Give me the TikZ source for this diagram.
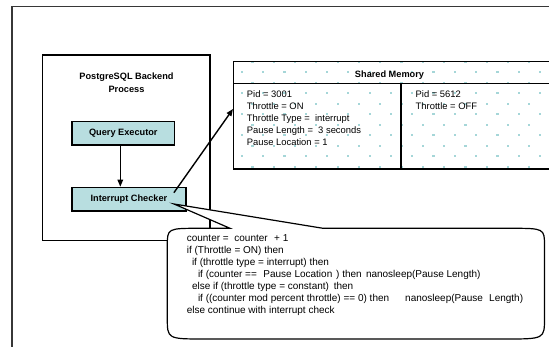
\documentclass[tikz,border=0pt]{standalone}
\usepackage{fontspec}
\setmainfont{Liberation Sans}
\usetikzlibrary{arrows.meta}
\definecolor{tealfill}{RGB}{184,222,224}
\definecolor{dotc}{RGB}{165,214,216}
\definecolor{framec}{RGB}{55,55,55}
\begin{document}
\begin{tikzpicture}[x=1pt,y=-1pt,
  box/.style={draw, line width=1.3pt, inner sep=0pt},
  bl/.style={font=\fontsize{9.2}{12.3}\selectfont\bfseries, inner sep=0pt},
  smt/.style={font=\fontsize{9.4}{12}\selectfont, anchor=base west, inner sep=0pt},
  cot/.style={font=\fontsize{10}{12}\selectfont, anchor=base west, inner sep=0pt},
  arr/.style={line width=1.4pt, -{Triangle[length=7pt,width=5.5pt]}}]
\clip (0,0) rectangle (549,347);
\fill[white] (0,0) rectangle (549,347);
% outer frame
\draw[framec, line width=1.6pt] (11.7,360) -- (11.7,6.5) -- (560,6.5);
% backend process
\node[box, minimum width=167.6pt, minimum height=185.7pt, anchor=north west] (be) at (41.7,54.3) {};
\node[bl, align=center] (betitle) at (126.5,82.8) {PostgreSQL Backend\\Process};
\node[box, bl, fill=tealfill, minimum width=102.7pt, minimum height=23.6pt, anchor=north west] (qe) at (71.3,120.7) {Query Executor};
\node[box, bl, fill=tealfill, minimum width=114pt, minimum height=23.6pt, anchor=north west] (ic) at (71.3,186.7) {Interrupt Checker};
\draw[arr] ([xshift=-3pt]qe.south) -- ([xshift=-3pt]qe.south |- ic.north);
% shared memory dots
\begin{scope}
\clip (233,61) rectangle (560,168.3);
\foreach \k in {0,...,10} {
  \pgfmathsetmacro\yy{61.7+10.5*\k}
  \pgfmathsetmacro\xo{mod(\k,2)==0 ? 444 : 454.7}
  \foreach \m in {-11,...,5} {
    \fill[dotc] ({\xo+21.3*\m-1},{\yy-1}) rectangle ++(2.2,2.2);
  }
}
\end{scope}
\node[box, minimum width=327pt, minimum height=107.3pt, anchor=north west] (sm) at (233,61) {};
\coordinate (hl) at (0,83.3);
\coordinate (dv) at (401,0);
\draw[line width=1.3pt] (sm.west |- hl) -- (sm.east |- hl);
\draw[line width=1.3pt] (dv |- hl) -- (dv |- sm.south);
\node[bl] (smh) at (389.5,74.7) {Shared Memory};
\node[smt] (sa1) at (246.7,97.1) {Pid = 3001};
\node[smt] (sa2) at (246.7,109.1) {Throttle = ON};
\node[smt] (sa3) at (246.7,121.1) {Throttle Type = \ interrupt};
\node[smt] (sa4) at (246.7,133.1) {Pause Length = \ 3 seconds};
\node[smt] (sa5) at (246.7,145.1) {Pause Location = 1};
\node[smt] (sb1) at (415.5,97.1) {Pid = 5612};
\node[smt] (sb2) at (415.5,109.1) {Throttle = OFF};
% arrow to shared memory
\draw[arr] ([xshift=-12.7pt,yshift=-6pt]ic.north east) -- ([yshift=6.3pt]sm.west);
% callout
\coordinate (tip) at (174,204);
\draw[line width=1.2pt, fill=white]
  (167.3,246) .. controls (167.3,228.3) .. (200,228.3) -- (230,228.3) -- (tip) -- (323,228.3)
  -- (510,228.3) .. controls (544.5,228.3) .. (544.5,246)
  -- (544.5,318) .. controls (544.5,339) .. (505,339)
  -- (205,339) .. controls (167.3,339) .. (167.3,318) -- cycle;
\node[cot] (c1a) at (186.6,241.3) {counter =};
\node[cot] (c1b) at (234.2,241.3) {counter};
\node[cot] (c1c) at (274,241.3) {+ 1};
\node[cot] (c2) at (186.6,253.3) {if (Throttle = ON) then};
\node[cot] (c3) at (191.8,265.3) {if (throttle type = interrupt) then};
\node[cot] (c4a) at (197.8,277.3) {if (counter ==};
\node[cot] (c4b) at (263.2,277.3) {Pause Location};
\node[cot] (c4c) at (336,277.3) {) then};
\node[cot] (c4d) at (365.8,277.3) {nanosleep(Pause Length)};
\node[cot] (c5a) at (191.8,289.3) {else if (throttle type = constant)};
\node[cot] (c5b) at (333.6,289.3) {then};
\node[cot] (c6a) at (197.8,301.3) {if ((counter mod percent throttle) == 0) then};
\node[cot] (c6b) at (405,301.3) {nanosleep(Pause};
\node[cot] (c6c) at (489,301.3) {Length)};
\node[cot] (c7) at (186.6,313.3) {else continue with interrupt check};
\end{tikzpicture}
\end{document}
